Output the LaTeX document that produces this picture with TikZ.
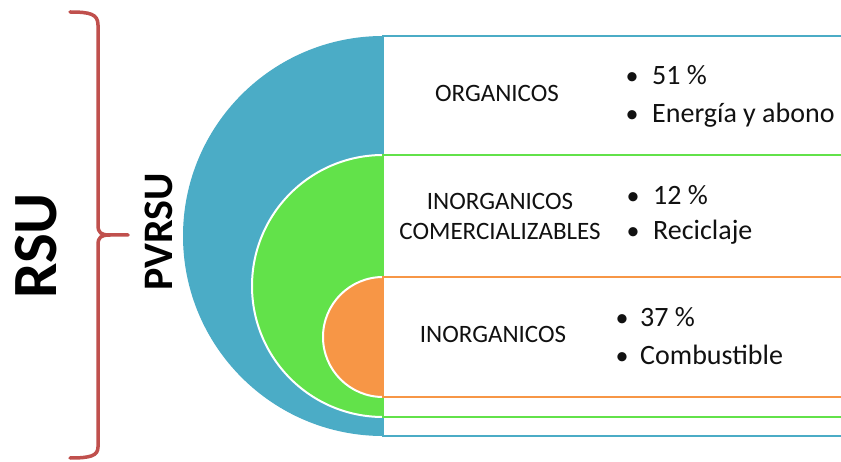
\documentclass[tikz,border=0pt]{standalone}
\usepackage{fontspec}
\setmainfont{Carlito}
\definecolor{cblue}{HTML}{4BACC6}
\definecolor{cgreen}{HTML}{62E24A}
\definecolor{corange}{HTML}{F79646}
\definecolor{cred}{HTML}{C0504D}
\definecolor{ctext}{HTML}{111111}
\tikzset{
  rowbox/.style={line width=2.8pt},
  halfdisc/.style={draw=white, line width=2pt},
  labeltext/.style={font=\fontsize{25}{30}\selectfont, text=ctext, inner sep=0pt, anchor=base},
  itemtext/.style={font=\fontsize{28}{33}\selectfont, text=ctext, inner sep=0pt, anchor=base west},
  bullettext/.style={font=\fontsize{26}{33}\selectfont, text=ctext, inner sep=0pt, anchor=base},
  bigtitle/.style={font=\bfseries\fontsize{63}{70}\selectfont, text=black, rotate=90, inner sep=0pt},
  midtitle/.style={font=\bfseries\fontsize{42}{48}\selectfont, text=black, rotate=90, inner sep=0pt},
  bracepath/.style={draw=cred, line width=3.5pt, line cap=round, line join=round}
}
\begin{document}
\begin{tikzpicture}[x=1pt,y=1pt]
\useasboundingbox (0,0) rectangle (841,461);
\clip (0,0) rectangle (841,461);
\fill[white] (0,0) rectangle (841,461);
% blue level
\fill[cblue] (383,425) arc[start angle=90, end angle=270, radius=200] -- cycle;
\draw[rowbox, draw=cblue] (383,25) rectangle (860,425);
% green level
\fill[cgreen] (383,306) arc[start angle=90, end angle=270, radius=131] -- cycle;
\draw[halfdisc] (383,306) arc[start angle=90, end angle=270, radius=131];
\draw[rowbox, draw=cgreen] (383,44) rectangle (860,306);
% orange level
\fill[corange] (383,184) arc[start angle=90, end angle=270, radius=60] -- cycle;
\draw[halfdisc] (383,184) arc[start angle=90, end angle=270, radius=60];
\draw[rowbox, draw=corange] (383,64) rectangle (860,184);
% brace
\draw[bracepath] (70,449) .. controls (90,449) and (98,447) .. (98,436)
  -- (98,236) .. controls (98,228) and (101,226) .. (110,226) -- (128,226);
\draw[bracepath] (110,226) .. controls (101,226) and (98,224) .. (98,216)
  -- (98,14) .. controls (98,5) and (90,3) .. (70,3);
% titles
\node[bigtitle] (rsu) at (36,215) {RSU};
\node[midtitle] (pvrsu) at (159,229) {PVRSU};
% row 1
\node[labeltext] (org) at (497,359) {ORGANICOS};
\node[bullettext] (b1a) at (632,376) {•};
\node[itemtext] (t1a) at (652,376) {51 \%};
\node[bullettext] (b1b) at (632,338) {•};
\node[itemtext] (t1b) at (652,338) {Energía y abono};
% row 2
\node[labeltext] (inorg1) at (500,251) {INORGANICOS};
\node[labeltext] (comer) at (500,221) {COMERCIALIZABLES};
\node[bullettext] (b2a) at (633,256) {•};
\node[itemtext] (t2a) at (653,256) {12 \%};
\node[bullettext] (b2b) at (633,221) {•};
\node[itemtext] (t2b) at (653,221) {Reciclaje};
% row 3
\node[labeltext] (inorg2) at (493,118) {INORGANICOS};
\node[bullettext] (b3a) at (622,134) {•};
\node[itemtext] (t3a) at (640,134) {37 \%};
\node[bullettext] (b3b) at (622,96) {•};
\node[itemtext] (t3b) at (640,96) {Combustible};
\end{tikzpicture}
\end{document}
